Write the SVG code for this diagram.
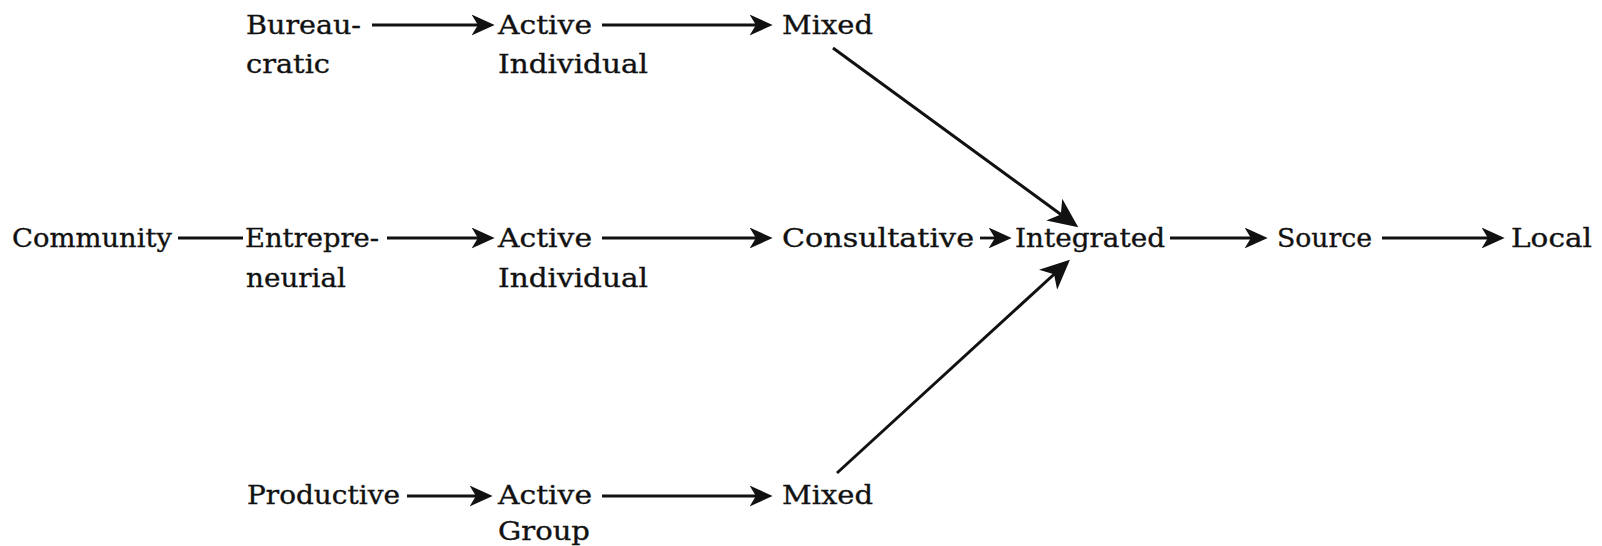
<svg xmlns="http://www.w3.org/2000/svg" width="1602" height="546" viewBox="0 0 1602 546">
<style>
text{font-family:"DejaVu Serif","Liberation Serif",serif;font-size:26px;fill:#111;stroke:#111;stroke-width:0.35}
.c line{stroke:#111;stroke-width:2.8;fill:none}
.c .d{stroke-width:3}
</style>
<defs>
<marker id="ah" viewBox="0 0 22 20" refX="8" refY="10" markerWidth="23" markerHeight="21" markerUnits="userSpaceOnUse" orient="auto">
<path d="M0,0 L22,10 L0,20 L6,10 Z" fill="#111"/>
</marker>
<marker id="ahb" viewBox="0 0 22 20" refX="8" refY="10" markerWidth="30" markerHeight="27" markerUnits="userSpaceOnUse" orient="auto">
<path d="M0,0 L22,10 L0,20 L6,10 Z" fill="#111"/>
</marker>
</defs>
<rect width="1602" height="546" fill="#fff"/>
<g class="c" id="connectors">
<line x1="372" y1="25" x2="480" y2="25" marker-end="url(#ah)"/>
<line x1="602" y1="25" x2="758" y2="25" marker-end="url(#ah)"/>
<line class="d" x1="833" y1="48" x2="1063" y2="216" marker-end="url(#ahb)"/>
<line x1="178" y1="238" x2="243" y2="238"/>
<line x1="387" y1="238" x2="480" y2="238" marker-end="url(#ah)"/>
<line x1="602" y1="238" x2="758" y2="238" marker-end="url(#ah)"/>
<line x1="980" y1="238" x2="997" y2="238" marker-end="url(#ah)"/>
<line x1="1170" y1="238" x2="1253" y2="238" marker-end="url(#ah)"/>
<line x1="1382" y1="238" x2="1490" y2="238" marker-end="url(#ah)"/>
<line class="d" x1="837" y1="473" x2="1056" y2="272.5" marker-end="url(#ahb)"/>
<line x1="407" y1="496" x2="478" y2="496" marker-end="url(#ah)"/>
<line x1="602" y1="496" x2="758" y2="496" marker-end="url(#ah)"/>
</g>
<g id="bureaucratic"><text x="246" y="34" textLength="115" lengthAdjust="spacingAndGlyphs">Bureau-</text><text x="246" y="73" textLength="84" lengthAdjust="spacingAndGlyphs">cratic</text></g>
<g id="active-individual-1"><text x="498" y="34" textLength="94" lengthAdjust="spacingAndGlyphs">Active</text><text x="498" y="73" textLength="150" lengthAdjust="spacingAndGlyphs">Individual</text></g>
<g id="mixed-1"><text x="782" y="34" textLength="91" lengthAdjust="spacingAndGlyphs">Mixed</text></g>
<g id="community"><text x="12" y="247" textLength="160" lengthAdjust="spacingAndGlyphs">Community</text></g>
<g id="entrepreneurial"><text x="245" y="247" textLength="134" lengthAdjust="spacingAndGlyphs">Entrepre-</text><text x="246" y="287" textLength="100" lengthAdjust="spacingAndGlyphs">neurial</text></g>
<g id="active-individual-2"><text x="498" y="247" textLength="94" lengthAdjust="spacingAndGlyphs">Active</text><text x="498" y="287" textLength="150" lengthAdjust="spacingAndGlyphs">Individual</text></g>
<g id="consultative"><text x="782" y="247" textLength="192" lengthAdjust="spacingAndGlyphs">Consultative</text></g>
<g id="integrated"><text x="1015" y="247" textLength="150" lengthAdjust="spacingAndGlyphs">Integrated</text></g>
<g id="source"><text x="1277" y="247" textLength="95" lengthAdjust="spacingAndGlyphs">Source</text></g>
<g id="local"><text x="1511" y="247" textLength="81" lengthAdjust="spacingAndGlyphs">Local</text></g>
<g id="productive"><text x="247" y="504" textLength="153" lengthAdjust="spacingAndGlyphs">Productive</text></g>
<g id="active-group"><text x="498" y="504" textLength="94" lengthAdjust="spacingAndGlyphs">Active</text><text x="498" y="540" textLength="92" lengthAdjust="spacingAndGlyphs">Group</text></g>
<g id="mixed-2"><text x="782" y="504" textLength="91" lengthAdjust="spacingAndGlyphs">Mixed</text></g>
</svg>
